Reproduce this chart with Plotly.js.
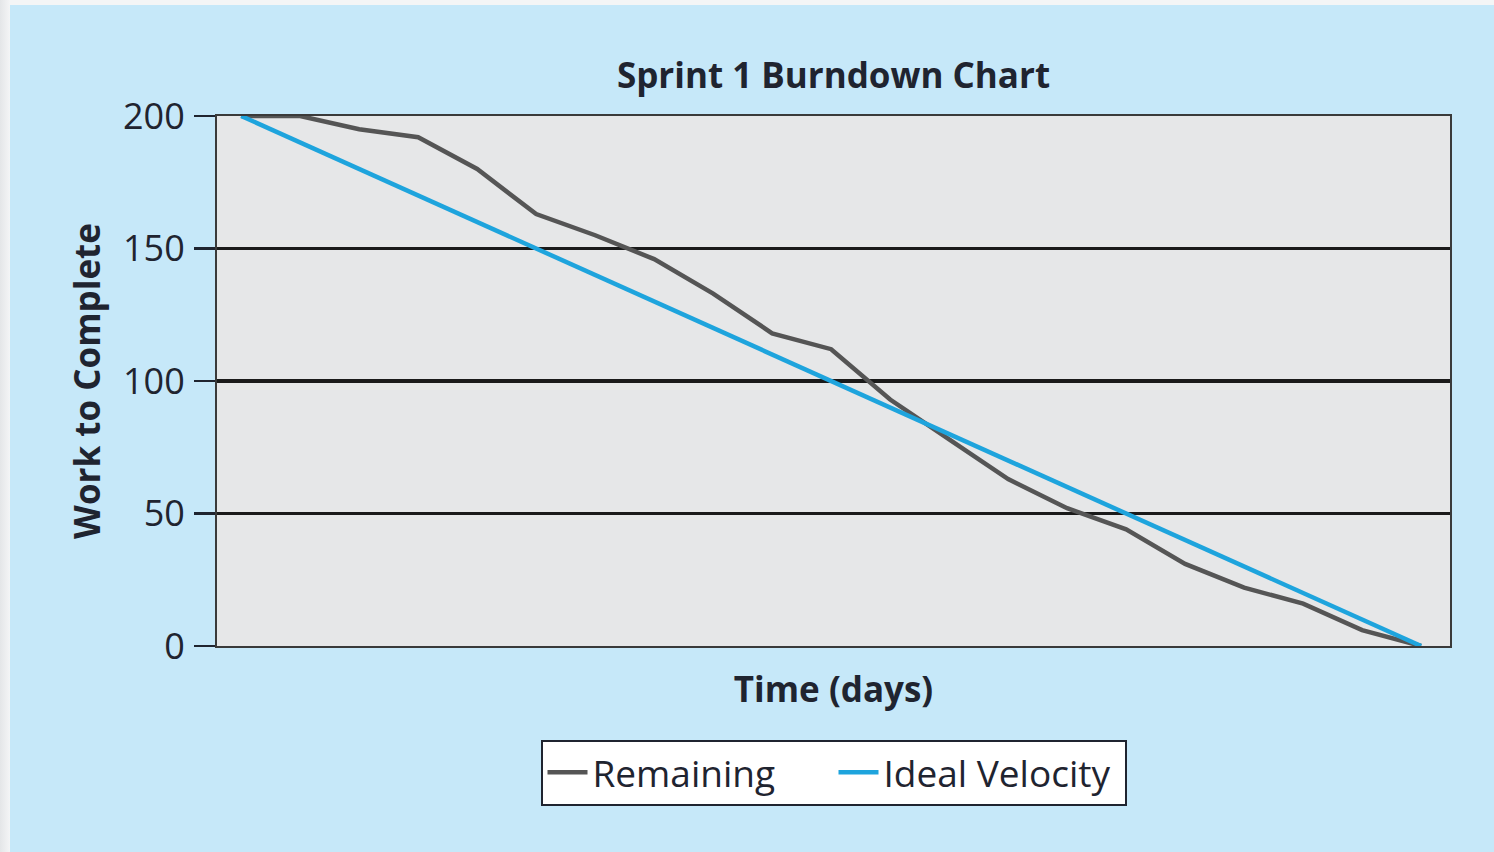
<!DOCTYPE html>
<html>
<head>
<meta charset="utf-8">
<script src="https://cdn.plot.ly/plotly-3.0.1.min.js"></script>
<style>
  html, body { margin: 0; padding: 0; width: 1494px; height: 852px; overflow: hidden;
    background: linear-gradient(to right, #e4e6e8 0px, #f4f5f6 10px); }
  #chart { position: absolute; left: 10px; top: 5px; width: 1484px; height: 847px; }
</style>
</head>
<body>
<div id="chart"></div>
<script>
const days = [0,1,2,3,4,5,6,7,8,9,10,11,12,13,14,15,16,17,18,19,20];
const remaining = [200,200,195,192,180,163,155,146,133,118,112,93,78,63,52,44,31,22,16,6,0];
const idealVelocity = [200,190,180,170,160,150,140,130,120,110,100,90,80,70,60,50,40,30,20,10,0];
const yTicks = [0,50,100,150,200];

const FONT = "Open Sans, Noto Sans, sans-serif";
const TXT = "#1f2430";

const data = [
  { x: days, y: remaining, name: "Remaining", type: "scatter", mode: "lines",
    line: { color: "#555555", width: 4.5 } },
  { x: days, y: idealVelocity, name: "Ideal Velocity", type: "scatter", mode: "lines",
    line: { color: "#1ea4dd", width: 4.5 } }
];

const layout = {
  width: 1484, height: 847,
  margin: { l: 207, r: 44, t: 111, b: 206 },
  paper_bgcolor: "#c6e8f9",
  plot_bgcolor: "#e6e7e8",
  font: { family: FONT, color: TXT },
  title: { text: "<b>Sprint 1 Burndown Chart</b>", font: { size: 35, family: FONT, color: TXT },
           x: 0.5, xref: "paper", xanchor: "center", y: 1 - 71 / 847, yref: "container", yanchor: "middle" },
  xaxis: {
    range: [-0.41, 20.49], showticklabels: false, ticks: "", showgrid: false, zeroline: false,
    showline: true, mirror: true, linecolor: "#3a3a3a", linewidth: 2,
    title: { text: "<b>Time (days)</b>", font: { size: 35, family: FONT, color: TXT }, standoff: 30 },
    fixedrange: true
  },
  yaxis: {
    range: [0, 200], tickvals: yTicks, ticktext: yTicks.map(String),
    ticks: "outside", ticklen: 21, tickwidth: 2.5, tickcolor: TXT,
    ticklabelstandoff: 2,
    tickfont: { size: 36, family: FONT, color: TXT },
    showgrid: true, gridcolor: "#1a1a1a", gridwidth: 3.5, zeroline: false,
    showline: true, mirror: true, linecolor: "#3a3a3a", linewidth: 2,
    title: { text: "<b>Work to Complete</b>", font: { size: 35, family: FONT, color: TXT }, standoff: 12 },
    fixedrange: true
  },
  showlegend: true,
  legend: {
    orientation: "h", x: 0.5, xanchor: "center", y: -0.177, yanchor: "top",
    bgcolor: "#ffffff", bordercolor: TXT, borderwidth: 2,
    font: { size: 37, family: FONT, color: TXT },
    itemwidth: 40, entrywidth: 236, entrywidthmode: "pixels", traceorder: "normal"
  }
};

Plotly.newPlot("chart", data, layout, { displayModeBar: false, staticPlot: true });
</script>
</body>
</html>
